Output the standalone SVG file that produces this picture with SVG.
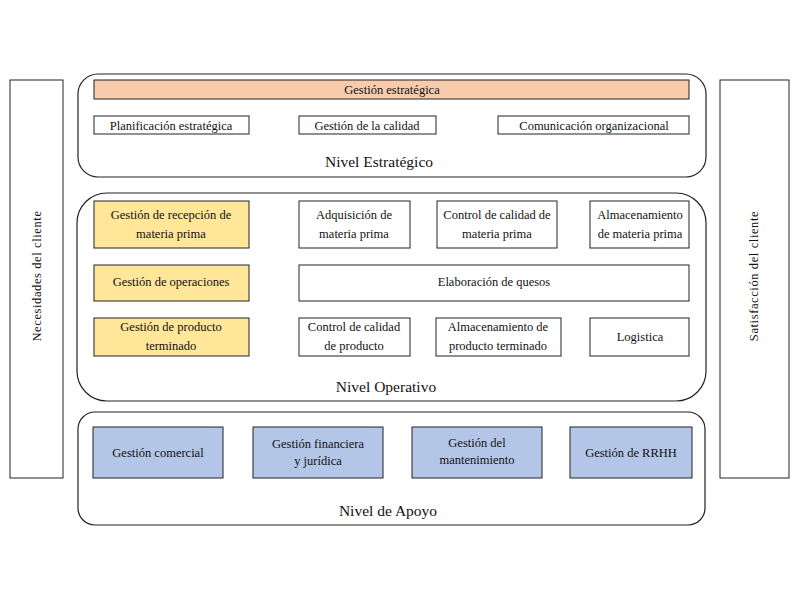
<svg xmlns="http://www.w3.org/2000/svg" width="800" height="600" viewBox="0 0 800 600">
<style>
text{font-family:"Liberation Serif","Times New Roman",serif;fill:#111;text-anchor:middle}
.t{font-size:12.5px}
.lv{font-size:15.5px}
.side{font-size:12.5px;letter-spacing:0.6px}
.box{fill:#fff;stroke:#222;stroke-width:1}
.y{fill:#FFE699;stroke:#222;stroke-width:1}
.b{fill:#B4C6E7;stroke:#222;stroke-width:1}
.o{fill:#F8CBAD;stroke:#222;stroke-width:1}
.lvl{fill:#fff;stroke:#222;stroke-width:1.2}
</style>
<rect width="800" height="600" fill="#fff"/>
<g id="necesidades">
<rect class="box" x="10" y="80" width="53" height="398"/>
<text class="side" transform="translate(41,276) rotate(-90)">Necesidades del cliente</text>
</g>
<g id="satisfaccion">
<rect class="box" x="720" y="80" width="69" height="398"/>
<text class="side" transform="translate(758,276) rotate(-90)">Satisfacción del cliente</text>
</g>
<g id="nivel-estrategico">
<rect class="lvl" x="78" y="74" width="628" height="103" rx="20"/>
<text class="lv" x="379" y="167">Nivel Estratégico</text>
</g>
<g id="gestion-estrategica">
<rect class="o" x="94" y="80" width="595" height="19"/>
<text class="t" x="392" y="94">Gestión estratégica</text>
</g>
<g id="planificacion">
<rect class="box" x="94" y="116" width="155" height="18"/>
<text class="t" x="171" y="130">Planificación estratégica</text>
</g>
<g id="calidad">
<rect class="box" x="299" y="116" width="137" height="18"/>
<text class="t" x="367" y="130">Gestión de la calidad</text>
</g>
<g id="comunicacion">
<rect class="box" x="498" y="116" width="191" height="18"/>
<text class="t" x="594" y="130">Comunicación organizacional</text>
</g>
<g id="nivel-operativo">
<rect class="lvl" x="77" y="193" width="629" height="208" rx="30"/>
<text class="lv" x="386" y="392">Nivel Operativo</text>
</g>
<g id="recepcion">
<rect class="y" x="94" y="201" width="155" height="47"/>
<text class="t" x="171" y="219">Gestión de recepción de</text>
<text class="t" x="171" y="238">materia prima</text>
</g>
<g id="adquisicion">
<rect class="box" x="299" y="201" width="111" height="47"/>
<text class="t" x="354" y="219">Adquisición de</text>
<text class="t" x="354" y="238">materia prima</text>
</g>
<g id="control-mp">
<rect class="box" x="437" y="201" width="120" height="47"/>
<text class="t" x="497" y="219">Control de calidad de</text>
<text class="t" x="497" y="238">materia prima</text>
</g>
<g id="almacen-mp">
<rect class="box" x="590" y="201" width="99" height="47"/>
<text class="t" x="640" y="219">Almacenamiento</text>
<text class="t" x="640" y="238">de materia prima</text>
</g>
<g id="operaciones">
<rect class="y" x="94" y="265" width="155" height="36"/>
<text class="t" x="171" y="286">Gestión de operaciones</text>
</g>
<g id="elaboracion">
<rect class="box" x="299" y="265" width="390" height="36"/>
<text class="t" x="494" y="286">Elaboración de quesos</text>
</g>
<g id="producto-terminado">
<rect class="y" x="94" y="318" width="155" height="38"/>
<text class="t" x="171" y="331">Gestión de producto</text>
<text class="t" x="171" y="350">terminado</text>
</g>
<g id="control-producto">
<rect class="box" x="299" y="318" width="111" height="38"/>
<text class="t" x="354" y="331">Control de calidad</text>
<text class="t" x="354" y="350">de producto</text>
</g>
<g id="almacen-pt">
<rect class="box" x="436" y="318" width="125" height="38"/>
<text class="t" x="498" y="331">Almacenamiento de</text>
<text class="t" x="498" y="350">producto terminado</text>
</g>
<g id="logistica">
<rect class="box" x="590" y="318" width="99" height="38"/>
<text class="t" x="640" y="341">Logistica</text>
</g>
<g id="nivel-apoyo">
<rect class="lvl" x="78" y="412" width="627" height="113" rx="17"/>
<text class="lv" x="388" y="516">Nivel de Apoyo</text>
</g>
<g id="comercial">
<rect class="b" x="93" y="427" width="130" height="51"/>
<text class="t" x="158" y="457">Gestión  comercial</text>
</g>
<g id="financiera">
<rect class="b" x="253" y="427" width="130" height="51"/>
<text class="t" x="318" y="448">Gestión  financiera</text>
<text class="t" x="318" y="465">y jurídica</text>
</g>
<g id="mantenimiento">
<rect class="b" x="412" y="427" width="130" height="51"/>
<text class="t" x="477" y="447">Gestión  del</text>
<text class="t" x="477" y="464">mantenimiento</text>
</g>
<g id="rrhh">
<rect class="b" x="570" y="427" width="122" height="51"/>
<text class="t" x="631" y="457">Gestión  de RRHH</text>
</g>
<g id="connectors"></g>
</svg>
